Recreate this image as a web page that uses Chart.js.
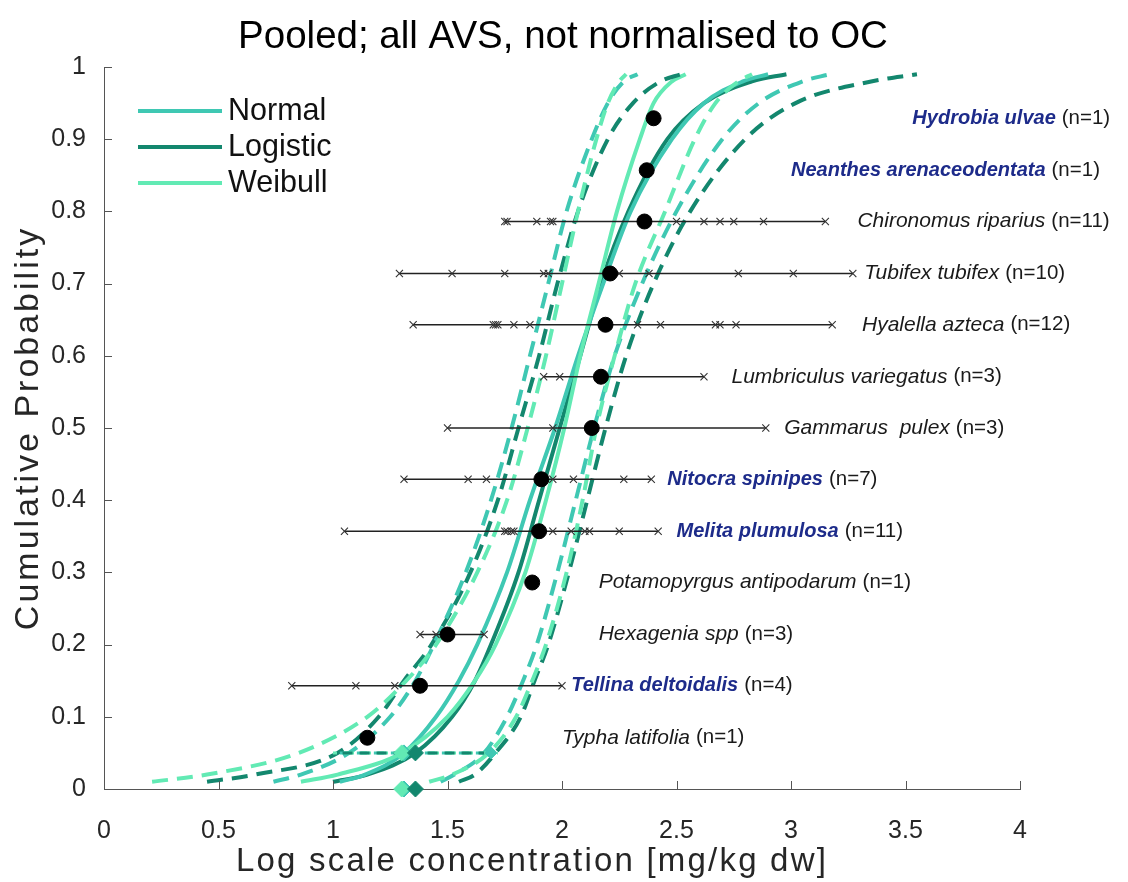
<!DOCTYPE html>
<html lang="en">
<head>
<meta charset="UTF-8">
<title>Pooled SSD - all AVS</title>
<script src="https://cdn.jsdelivr.net/npm/chart.js"></script>
<style>
  html, body { margin: 0; padding: 0; background: #fff; }
</style>
</head>
<body>
<canvas id="ssd" width="1128" height="882"></canvas>
<script>
// probability levels at which the fitted curves are tabulated
const probLevels = [0.01, 0.02, 0.05, 0.1, 0.15, 0.2, 0.3, 0.4, 0.5, 0.6, 0.7, 0.8, 0.9, 0.95, 0.98, 0.99];

// fitted SSD curves (log10 concentration at each level) and their confidence bands
const normalFit    = [1.03, 1.14, 1.31, 1.45, 1.55, 1.63, 1.76, 1.86, 1.97, 2.07, 2.18, 2.30, 2.48, 2.62, 2.79, 2.90];
const normalLow    = [0.74, 0.86, 1.07, 1.25, 1.36, 1.44, 1.58, 1.69, 1.78, 1.86, 1.94, 2.02, 2.13, 2.20, 2.27, 2.33];
const normalHigh   = [1.47, 1.53, 1.66, 1.76, 1.83, 1.89, 1.98, 2.06, 2.14, 2.23, 2.35, 2.50, 2.70, 2.86, 3.05, 3.17];
const logisticFit  = [1.00, 1.15, 1.36, 1.52, 1.62, 1.69, 1.81, 1.90, 1.99, 2.08, 2.17, 2.29, 2.46, 2.62, 2.83, 2.98];
const logisticLow  = [0.45, 0.66, 1.02, 1.20, 1.31, 1.43, 1.60, 1.72, 1.81, 1.90, 1.98, 2.07, 2.20, 2.31, 2.43, 2.52];
const logisticHigh = [1.55, 1.62, 1.71, 1.82, 1.88, 1.94, 2.03, 2.11, 2.19, 2.28, 2.40, 2.56, 2.80, 3.02, 3.35, 3.55];
const weibullFit   = [0.86, 1.02, 1.30, 1.50, 1.62, 1.71, 1.84, 1.93, 2.01, 2.08, 2.16, 2.24, 2.34, 2.40, 2.48, 2.54];
const weibullLow   = [0.21, 0.45, 0.85, 1.15, 1.32, 1.45, 1.63, 1.76, 1.85, 1.93, 2.00, 2.07, 2.15, 2.20, 2.25, 2.28];
const weibullHigh  = [1.42, 1.52, 1.68, 1.80, 1.87, 1.93, 2.02, 2.09, 2.15, 2.23, 2.32, 2.45, 2.58, 2.67, 2.77, 2.83];

// HC5 (5th percentile) per model: estimate and confidence limits
const hc5Models = ['Normal', 'Weibull', 'Logistic'];
const hc5Value  = [1.31, 1.30, 1.36];
const hc5Low    = [1.03, 1.00, 1.02];
const hc5High   = [1.69, 1.72, 1.66];

// species, ranked by mean toxicity value
const species = ['Typha latifolia', 'Tellina deltoidalis', 'Hexagenia spp', 'Potamopyrgus antipodarum',
  'Melita plumulosa', 'Nitocra spinipes', 'Gammarus  pulex', 'Lumbriculus variegatus', 'Hyalella azteca',
  'Tubifex tubifex', 'Chironomus riparius', 'Neanthes arenaceodentata', 'Hydrobia ulvae'];
const sampleSize = [1, 4, 3, 1, 11, 7, 3, 3, 12, 10, 11, 1, 1];
const marine     = [false, true, false, false, true, true, false, false, false, false, false, true, true];
const cumProb    = [0.071, 0.143, 0.214, 0.286, 0.357, 0.429, 0.5, 0.571, 0.643, 0.714, 0.786, 0.857, 0.929];
const speciesMean = [1.15, 1.38, 1.50, 1.87, 1.90, 1.91, 2.13, 2.17, 2.19, 2.21, 2.36, 2.37, 2.40];
// individual test results per species
const speciesValues = [
  [],
  [0.82, 1.10, 1.27, 2.00],
  [1.38, 1.45, 1.66],
  [],
  [1.05, 1.75, 1.76, 1.78, 1.79, 1.96, 2.04, 2.10, 2.12, 2.25, 2.42],
  [1.31, 1.59, 1.67, 1.96, 2.05, 2.27, 2.39],
  [1.50, 1.96, 2.89],
  [1.92, 1.99, 2.62],
  [1.35, 1.70, 1.71, 1.72, 1.79, 1.86, 2.33, 2.43, 2.67, 2.69, 2.76, 3.18],
  [1.29, 1.52, 1.75, 1.92, 1.94, 2.25, 2.38, 2.77, 3.01, 3.27],
  [1.75, 1.76, 1.89, 1.95, 1.96, 2.50, 2.62, 2.69, 2.75, 2.88, 3.15],
  [],
  []
];

// where each species label starts (x in log units)
const labelX = [2.00, 2.04, 2.16, 2.16, 2.50, 2.46, 2.97, 2.74, 3.31, 3.32, 3.29, 3.00, 3.53];

const C_NORMAL = '#3fc8b3';
const C_LOGISTIC = '#13876e';
const C_WEIBULL = '#62eab4';
const FONT = '"Liberation Sans", Arial, sans-serif';
const AXIS_COL = '#555555';

const toCurve = xs => xs.map((x, i) => ({ x: x, y: probLevels[i] }));

function curve(xs, color, dashed) {
  return {
    data: toCurve(xs), showLine: true, pointRadius: 0, borderColor: color,
    borderWidth: 4, borderDash: dashed ? [16, 9] : [], cubicInterpolationMode: 'monotone',
    order: 5, clip: false
  };
}

const datasets = [];
// dashed bands first, solid fits above them
datasets.push(curve(weibullLow, C_WEIBULL, true), curve(weibullHigh, C_WEIBULL, true));
datasets.push(curve(normalLow, C_NORMAL, true), curve(normalHigh, C_NORMAL, true));
datasets.push(curve(logisticLow, C_LOGISTIC, true), curve(logisticHigh, C_LOGISTIC, true));
datasets.push(curve(weibullFit, C_WEIBULL, false), curve(normalFit, C_NORMAL, false), curve(logisticFit, C_LOGISTIC, false));

// HC5 confidence intervals along p = 0.05 (logistic drawn last, on top)
const hcColors = [C_NORMAL, C_WEIBULL, C_LOGISTIC];
hc5Models.forEach((m, i) => {
  datasets.push({
    data: [{ x: hc5Low[i], y: 0.05 }, { x: hc5High[i], y: 0.05 }], showLine: true,
    borderColor: hcColors[i], borderWidth: 3, borderDash: [10, 7], borderDashOffset: i * 6,
    pointRadius: 0, order: 4.3 - i * 0.1
  });
});
hc5Models.forEach((m, i) => {
  datasets.push({
    data: [{ x: hc5Value[i], y: 0.05 }, { x: hc5Value[i], y: 0 }], showLine: false,
    pointStyle: 'rectRot', pointRadius: 8, backgroundColor: hcColors[i], borderColor: hcColors[i],
    order: 3.3 - i * 0.1, clip: false
  });
});
datasets.push({
  data: [{ x: hc5High[0], y: 0.05 }], pointStyle: 'rectRot', pointRadius: 6,
  backgroundColor: C_NORMAL, borderColor: C_NORMAL, order: 3
});

// per-species spread of results
speciesValues.forEach((vals, i) => {
  if (!vals.length) return;
  datasets.push({
    data: vals.map(v => ({ x: v, y: cumProb[i] })), showLine: true,
    borderColor: '#222', borderWidth: 1.3, pointStyle: 'crossRot', pointRadius: 5,
    pointBorderColor: '#333', pointBorderWidth: 1.1, order: 2
  });
});

// species means
datasets.push({
  data: speciesMean.map((v, i) => ({ x: v, y: cumProb[i] })),
  pointRadius: 7.5, backgroundColor: '#000', borderColor: '#000', order: 1
});

function spacedText(ctx, text, x, y, spacing) {
  ctx.letterSpacing = spacing + 'px';
  ctx.fillText(text, x, y);
  ctx.letterSpacing = '0px';
}

const decor = {
  id: 'decor',
  afterDraw(chart) {
    const ctx = chart.ctx;
    const xs = chart.scales.x, ys = chart.scales.y;
    const area = chart.chartArea;
    ctx.save();

    // inward ticks
    ctx.strokeStyle = AXIS_COL;
    ctx.lineWidth = 1;
    ctx.beginPath();
    ys.ticks.forEach(t => {
      const y = Math.round(ys.getPixelForValue(t.value)) + 0.5;
      ctx.moveTo(area.left, y); ctx.lineTo(area.left + 8, y);
    });
    xs.ticks.forEach(t => {
      const x = Math.round(xs.getPixelForValue(t.value)) + 0.5;
      ctx.moveTo(x, area.bottom); ctx.lineTo(x, area.bottom - 8);
    });
    ctx.stroke();

    // title and axis titles
    ctx.fillStyle = '#000';
    ctx.textAlign = 'center';
    ctx.textBaseline = 'middle';
    ctx.font = '38.5px ' + FONT;
    ctx.fillText('Pooled; all AVS, not normalised to OC', 563, 37);
    ctx.fillStyle = '#262626';
    ctx.font = '33px ' + FONT;
    spacedText(ctx, 'Log scale concentration [mg/kg dw]', 532, 862, 2.2);
    ctx.save();
    ctx.translate(29, (area.top + area.bottom) / 2);
    ctx.rotate(-Math.PI / 2);
    ctx.font = '34px ' + FONT;
    spacedText(ctx, 'Cumulative Probability', 0, 0, 3);
    ctx.restore();

    // legend
    const legend = [['Normal', C_NORMAL], ['Logistic', C_LOGISTIC], ['Weibull', C_WEIBULL]];
    ctx.textAlign = 'left';
    ctx.font = '30.5px ' + FONT;
    legend.forEach((item, i) => {
      const y = 111 + i * 36;
      ctx.strokeStyle = item[1];
      ctx.lineWidth = 4;
      ctx.beginPath();
      ctx.moveTo(138, y); ctx.lineTo(222, y);
      ctx.stroke();
      ctx.fillStyle = '#111';
      ctx.fillText(item[0], 228, y + 1);
    });

    // species labels
    species.forEach((name, i) => {
      const x = xs.getPixelForValue(labelX[i]);
      const y = ys.getPixelForValue(cumProb[i]);
      ctx.font = (marine[i] ? 'italic bold 20px ' : 'italic 21px ') + FONT;
      ctx.fillStyle = marine[i] ? '#1d2b8a' : '#1a1a1a';
      ctx.fillText(name, x, y);
      const w = ctx.measureText(name).width;
      ctx.font = '20.5px ' + FONT;
      ctx.fillStyle = '#1a1a1a';
      ctx.fillText('(n=' + sampleSize[i] + ')', x + w + 6, y);
    });
    ctx.restore();
  }
};

const tickFont = { family: FONT, size: 25 };
const fmt = v => String(+Number(v).toFixed(2));

new Chart(document.getElementById('ssd'), {
  type: 'scatter',
  data: { datasets: datasets },
  options: {
    responsive: false,
    animation: false,
    layout: { padding: { top: 67, right: 108, left: 0, bottom: 0 } },
    plugins: { legend: { display: false }, tooltip: { enabled: false } },
    scales: {
      x: {
        type: 'linear', min: 0, max: 4,
        ticks: { stepSize: 0.5, font: tickFont, color: '#262626', padding: 27, callback: fmt, maxRotation: 0 },
        grid: { display: false, drawTicks: false },
        border: { display: true, color: AXIS_COL, width: 1 },
        afterFit: s => { s.height = 93; }
      },
      y: {
        type: 'linear', min: 0, max: 1,
        ticks: { stepSize: 0.1, font: tickFont, color: '#262626', padding: 18, callback: fmt },
        grid: { display: false, drawTicks: false },
        border: { display: true, color: AXIS_COL, width: 1 },
        afterFit: s => { s.width = 104; }
      }
    }
  },
  plugins: [decor]
});
</script>
</body>
</html>
